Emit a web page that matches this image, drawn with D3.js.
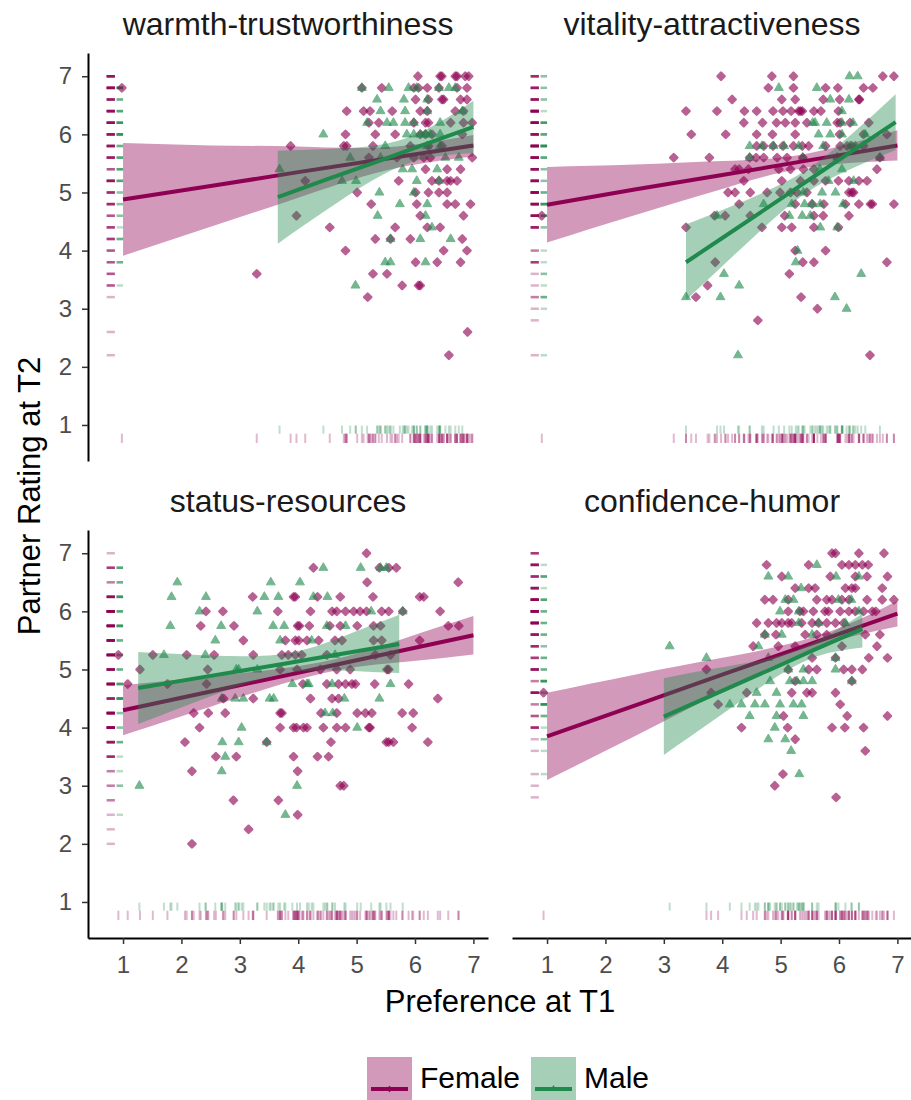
<!DOCTYPE html>
<html><head><meta charset="utf-8">
<script src="https://cdn.jsdelivr.net/npm/d3@7"></script>
<style>body{margin:0;background:#fff}svg{display:block}</style>
</head><body>
<script>
// ---------- DATA ----------
const panelTitles = ["warmth-trustworthiness", "vitality-attractiveness", "status-resources", "confidence-humor"];
const sexLabels = ["Female", "Male"];
const tickValues = [1, 2, 3, 4, 5, 6, 7];
const xTitle = "Preference at T1";
const yTitle = "Partner Rating at T2";

// points: rows of [Partner Rating at T2, [Preference at T1, ...]]
const warmthFemale = [
 [7.0,[6.05,6.43,6.46,6.69,6.72,6.86,6.92]],
 [6.8,[0.98,5.09,5.43,5.98,6.06,6.21,6.41,6.72,6.89]],
 [6.6,[6.01,6.23,6.46,6.49,6.78,6.89]],
 [6.4,[4.83,5.12,5.23,5.61,6.09,6.21,6.69,6.83]],
 [6.2,[5.21,5.38,5.98,6.18,6.23,6.61,6.83,6.98]],
 [6.0,[4.81,5.32,5.66,6.09,6.18,6.29,6.81]],
 [5.8,[3.87,4.78,4.83,5.28,5.92,6.23,6.46]],
 [5.6,[5.21,5.69,5.98,6.15,6.26,6.98]],
 [5.4,[6.18,6.55,6.78]],
 [5.2,[4.12,5.72,6.29,6.41,6.55,6.61,6.72]],
 [5.0,[5.01,6.01,6.23,6.41,6.55]],
 [4.8,[5.25,6.03,6.55,6.69,6.95]],
 [4.6,[3.97,6.09,6.83]],
 [4.4,[4.54,5.66,6.21,6.43]],
 [4.2,[5.32,5.58,5.92,6.81]],
 [4.0,[4.81,6.49,6.89]],
 [3.8,[6.01,6.38,6.78]],
 [3.6,[3.29,5.28,5.52]],
 [3.4,[5.78,6.06,6.09]],
 [3.2,[5.19]],
 [2.6,[6.90]],
 [2.2,[6.58]]
];
const warmthMale = [
 [6.8,[5.09,5.55,5.89,6.03,6.41,6.58,6.69]],
 [6.6,[5.35,5.81,6.21]],
 [6.4,[5.41,5.83,6.21,6.81]],
 [6.2,[5.18,5.52,5.63,5.83,5.98,6.43]],
 [6.0,[4.43,5.86,5.98,6.09,6.18,6.26,6.43]],
 [5.8,[5.49,6.21,6.43]],
 [5.6,[4.89,5.41,6.52,6.75]],
 [5.4,[3.68,5.79,5.95,6.38]],
 [5.2,[4.75,4.99,6.03,6.41]],
 [5.0,[5.39,5.98]],
 [4.8,[5.74,6.21]],
 [4.6,[5.36,6.18]],
 [4.4,[6.29]],
 [4.2,[5.58,6.09,6.61]],
 [3.8,[5.49,5.58,6.18]],
 [3.4,[4.98]]
];
const vitalityFemale = [
 [7.0,[3.98,4.85,5.22,6.75,6.94]],
 [6.8,[4.79,5.22,5.77,5.98,6.42,6.58]],
 [6.6,[4.17,5.02,5.25,5.73,6.01,6.34,6.35]],
 [6.4,[3.38,3.91,4.38,4.59,4.87,5.04,5.18,5.31,5.34,5.37,5.57,5.69,5.99]],
 [6.2,[4.37,4.69,4.93,5.08,5.25,5.45,5.97,6.02,6.19,6.51]],
 [6.0,[3.47,4.06,4.59,4.86,5.25,6.01,6.42,6.82]],
 [5.8,[4.59,4.71,4.87,5.04,5.22,5.37,5.48,5.77,6.02,6.14,6.22,6.42]],
 [5.6,[3.17,3.78,4.47,4.58,4.71,4.94,5.11,5.38,5.97,6.70]],
 [5.4,[4.22,4.29,4.45,4.97,5.17,5.39,5.57,6.65]],
 [5.2,[4.37,5.02,5.34,5.57,5.77,5.99,6.17,6.34,6.48]],
 [5.0,[4.10,4.22,4.48,4.77,4.99,5.17,5.28,5.45,6.17,6.22,6.25]],
 [4.8,[4.29,5.25,5.54,5.74,6.11,6.34,6.54,6.57,6.94]],
 [4.6,[0.91,3.87,4.05,4.48,5.07,5.57,5.73,6.17]],
 [4.4,[3.38,4.68,5.02,5.19,5.57,5.99]],
 [4.0,[5.25,5.77]],
 [3.8,[3.88,5.38,5.57,6.82]],
 [3.6,[5.15]],
 [3.4,[3.75]],
 [3.2,[3.55,5.35]],
 [3.0,[5.63]],
 [2.8,[4.61]],
 [2.2,[6.53]]
];
const vitalityMale = [
 [7.0,[6.18,6.32]],
 [6.8,[4.97,5.62]],
 [6.6,[5.85,6.17]],
 [6.4,[6.05]],
 [6.2,[5.55,5.59,5.79,6.05,6.24]],
 [6.0,[5.65,5.85,6.05,6.45]],
 [5.8,[4.47,4.68,4.88,5.06,5.31,5.73,6.19,6.28]],
 [5.6,[4.47,5.38,5.97,6.70]],
 [5.4,[5.67,6.05]],
 [5.2,[5.82,6.25]],
 [5.0,[5.39,5.71,5.94]],
 [4.8,[4.71,5.19,5.41,5.54,5.68,6.07]],
 [4.6,[3.91,5.15,5.37,5.51]],
 [4.4,[5.68,5.97]],
 [4.0,[5.29]],
 [3.8,[5.26]],
 [3.6,[4.03,6.38]],
 [3.4,[4.29]],
 [3.2,[3.38,3.97,5.93]],
 [3.0,[6.13]],
 [2.2,[4.27]]
];
const statusFemale = [
 [7.0,[5.17]],
 [6.75,[4.26,5.39,5.55,5.68]],
 [6.5,[5.18,6.74]],
 [6.25,[3.22,3.92,3.95,4.33,4.72,5.28,6.08,6.15]],
 [6.0,[2.42,2.71,3.65,4.21,4.58,4.66,4.81,4.95,5.06,5.17,5.43,5.55,5.79,6.43]],
 [5.75,[2.33,2.90,3.99,4.02,4.19,4.54,4.72,5.01,5.29,5.41,6.57,6.75]],
 [5.5,[3.06,3.78,3.95,4.01,4.15,4.35,4.63,4.75,5.29,5.43,6.08]],
 [5.25,[0.92,1.51,2.09,2.56,3.23,3.72,3.83,3.95,4.06,4.49,5.32,5.58]],
 [5.0,[1.29,2.45,3.69,3.98,4.38,4.66,4.89,5.52,5.55]],
 [4.75,[1.08,1.76,2.43,4.08,4.49,4.69,4.81,4.92,4.98,5.31,5.89]],
 [4.5,[2.72,3.23,4.21,4.58,4.69,6.39]],
 [4.25,[2.21,2.46,2.75,3.69,3.72,4.39,4.66,5.01,5.15,5.26,5.78,5.97]],
 [4.0,[2.31,3.69,3.92,3.97,4.09,4.15,4.43,4.66,4.81,5.21,5.23,5.95]],
 [3.75,[2.06,3.46,4.56,5.51,5.55,5.63,6.22]],
 [3.5,[2.59,2.94,3.92,4.33,4.52]],
 [3.25,[2.18,3.99]],
 [3.0,[4.72,4.78]],
 [2.75,[2.89,3.66]],
 [2.5,[3.99]],
 [2.25,[3.15]],
 [2.0,[2.18]]
];
const statusMale = [
 [6.75,[4.43,5.07,5.41,5.51]],
 [6.5,[1.93,3.53,4.03]],
 [6.25,[1.83,2.42,3.42,3.66,4.26,4.50]],
 [6.0,[2.31,3.30,5.25,5.79]],
 [5.75,[1.81,2.68,3.57,3.76,4.49,4.81]],
 [5.5,[2.58,3.69,4.23]],
 [5.25,[1.70,2.41,4.63]],
 [5.0,[2.94,2.98,3.30]],
 [4.75,[3.90,4.15,4.18,4.58,5.58]],
 [4.5,[2.69,2.92,3.06,3.51,3.58,4.79,5.39]],
 [4.25,[4.46,4.59]],
 [4.0,[3.03,5.01]],
 [3.75,[2.70,2.98,3.46]],
 [3.5,[2.75]],
 [3.25,[2.69]],
 [3.0,[1.28,3.98]],
 [2.5,[3.78]]
];
const confidenceFemale = [
 [7.0,[5.88,5.94,6.34,6.77]],
 [6.8,[4.76,5.48,6.05,6.17,6.28,6.40,6.50]],
 [6.6,[5.02,5.85,6.28,6.48,6.83]],
 [6.4,[5.25,5.48,5.59,6.11,6.22,6.28,6.74]],
 [6.2,[4.73,4.87,5.13,5.62,5.79,5.88,6.05,6.17,6.48,6.74,6.94]],
 [6.0,[5.13,5.33,5.39,5.56,5.76,5.82,6.02,6.17,6.28,6.42,6.57,6.63]],
 [5.8,[4.59,4.79,4.93,5.02,5.13,5.19,5.36,5.54,5.65,5.79,5.94,6.08]],
 [5.6,[4.73,4.92,5.42,5.62,5.79,6.45,6.70]],
 [5.4,[4.53,4.96,5.25,6.05,6.65]],
 [5.2,[5.54,5.94,6.51,6.83]],
 [5.0,[3.73,5.13,5.48,5.62,6.08,6.22,6.40]],
 [4.8,[5.25,6.22]],
 [4.6,[0.94,3.81,4.42,5.19,5.45,5.54,5.94]],
 [4.4,[3.93,6.02]],
 [4.2,[5.05,6.14,6.83]],
 [4.0,[4.33,5.12,5.88,6.10,6.42]],
 [3.8,[5.25]],
 [3.6,[6.45]],
 [3.2,[5.04]],
 [3.0,[4.90]],
 [2.8,[5.95]]
];
const confidenceMale = [
 [6.8,[5.62]],
 [6.6,[4.79,5.13,5.95,6.34]],
 [6.4,[5.35]],
 [6.2,[5.08,5.22,5.99,6.21]],
 [6.0,[4.99,5.31,6.34]],
 [5.8,[5.31,5.65,6.11]],
 [5.6,[4.73,5.02,5.54]],
 [5.4,[3.10,4.62]],
 [5.2,[3.73,4.79,5.94]],
 [5.0,[5.13,5.39,5.94]],
 [4.8,[4.82,5.16,5.28,5.39,5.54,6.22]],
 [4.6,[4.59,4.93]],
 [4.4,[4.13,4.33,4.56,4.73,4.99,5.22,5.36]],
 [4.2,[4.47,4.93,5.39]],
 [4.0,[4.90]],
 [3.8,[4.79,5.08]],
 [3.6,[5.18]],
 [3.2,[5.32]]
];

// fitted lines with confidence band: [x, fit, lower, upper]
const warmthFemaleFit = [[1,4.88,3.91,5.85],[2.5,5.11,4.41,5.81],[4,5.35,4.91,5.79],[5.5,5.58,5.38,5.78],[7,5.81,5.62,5.99]];
const warmthMaleFit = [[3.65,4.92,4.12,5.72],[4.5,5.23,4.71,5.75],[5.4,5.55,5.28,5.82],[6.2,5.84,5.59,6.09],[7,6.13,5.68,6.58]];
const vitalityFemaleFit = [[1,4.79,4.14,5.44],[2.5,5.05,4.61,5.48],[4,5.30,5.06,5.54],[5.4,5.54,5.42,5.66],[7,5.81,5.55,6.07]];
const vitalityMaleFit = [[3.38,3.80,3.15,4.45],[4.2,4.35,3.92,4.78],[5.0,4.89,4.65,5.14],[5.8,5.43,5.21,5.65],[6.97,6.21,5.73,6.69]];
const statusFemaleFit = [[1,4.30,3.87,4.73],[2.5,4.62,4.36,4.88],[4.4,5.03,4.93,5.13],[5.8,5.33,5.13,5.53],[7,5.59,5.26,5.92]];
const statusMaleFit = [[1.26,4.68,4.06,5.30],[2.5,4.89,4.54,5.24],[3.76,5.10,4.93,5.27],[4.8,5.28,4.98,5.58],[5.73,5.44,4.94,5.94]];
const confidenceFemaleFit = [[1,3.85,3.10,4.60],[2.5,4.38,3.85,4.91],[4,4.91,4.62,5.20],[5.6,5.47,5.37,5.57],[7,5.96,5.74,6.18]];
const confidenceMaleFit = [[3.0,4.19,3.53,4.85],[3.9,4.59,4.16,5.02],[4.8,4.99,4.79,5.19],[5.6,5.35,5.22,5.48],[6.4,5.70,5.38,5.96]];

// ---------- CHART ----------
const W = 911, H = 1100;
const FONT = "'Liberation Sans', Arial, Helvetica, sans-serif";
const femaleColor = "#8E0152", maleColor = "#1f8a4c";
const colors = [femaleColor, maleColor];

const panels = [
  {title: panelTitles[0], data: [warmthFemale, warmthMale], fits: [warmthFemaleFit, warmthMaleFit], col: 0, row: 0},
  {title: panelTitles[1], data: [vitalityFemale, vitalityMale], fits: [vitalityFemaleFit, vitalityMaleFit], col: 1, row: 0},
  {title: panelTitles[2], data: [statusFemale, statusMale], fits: [statusFemaleFit, statusMaleFit], col: 0, row: 1},
  {title: panelTitles[3], data: [confidenceFemale, confidenceMale], fits: [confidenceFemaleFit, confidenceMaleFit], col: 1, row: 1}
];
const panelLeft = [88, 512], panelW = 400;
const panelTop = [53, 530], panelH = 408;

const svg = d3.select("body").append("svg").attr("width", W).attr("height", H)
  .style("font-family", FONT);
svg.append("rect").attr("width", W).attr("height", H).attr("fill", "#fff");

const diamond = d3.symbol().type(d3.symbolSquare).size(26);
const triangle = d3.symbol().type(d3.symbolTriangle).size(34);

panels.forEach(p => {
  const x = d3.scaleLinear().domain([0.4, 7.25]).range([panelLeft[p.col], panelLeft[p.col] + panelW]);
  const y = d3.scaleLinear().domain([0.38, 7.4]).range([panelTop[p.row] + panelH, panelTop[p.row]]);
  const g = svg.append("g");

  // strip title
  svg.append("text").attr("x", (x.range()[0] + x.range()[1]) / 2).attr("y", panelTop[p.row] - 18)
    .attr("text-anchor", "middle").attr("font-size", 32).attr("fill", "#1a1a1a").text(p.title);

  const pts = p.data.map(rows => rows.flatMap(([r, xs]) => xs.map(v => ({x: v, y: r}))));

  // rugs
  const rugG = g.append("g");
  pts.forEach((arr, i) => {
    const lx = i === 0 ? [0.72, 0.86] : [0.89, 1.0];
    const by = i === 0 ? [0.69, 0.85] : [0.85, 0.99];
    rugG.selectAll(null).data(arr).enter().append("line")
      .attr("x1", x(lx[0])).attr("x2", x(lx[1]))
      .attr("y1", d => y(d.y)).attr("y2", d => y(d.y))
      .attr("stroke", colors[i]).attr("stroke-opacity", 0.3).attr("stroke-width", 2.5);
    rugG.selectAll(null).data(arr).enter().append("line")
      .attr("y1", y(by[0])).attr("y2", y(by[1]))
      .attr("x1", d => x(d.x)).attr("x2", d => x(d.x))
      .attr("stroke", colors[i]).attr("stroke-opacity", 0.28).attr("stroke-width", 2);
  });

  // points
  pts.forEach((arr, i) => {
    g.append("g").selectAll("path").data(arr).enter().append("path")
      .attr("d", i === 0 ? diamond : triangle)
      .attr("transform", d => `translate(${x(d.x)},${y(d.y)})` + (i === 0 ? " rotate(45)" : ""))
      .attr("fill", colors[i]).attr("stroke", colors[i])
      .attr("stroke-width", i === 0 ? 2.4 : 1).attr("stroke-linejoin", "round")
      .attr("opacity", 0.62);
  });

  // smooths
  p.fits.forEach((f, i) => {
    const area = d3.area().x(d => x(d[0])).y0(d => y(d[2])).y1(d => y(d[3])).curve(d3.curveNatural);
    g.append("path").attr("d", area(f)).attr("fill", colors[i]).attr("fill-opacity", 0.4);
    const line = d3.line().x(d => x(d[0])).y(d => y(d[1]));
    g.append("path").attr("d", line(f)).attr("fill", "none").attr("stroke", colors[i]).attr("stroke-width", 4);
  });

  // axes
  if (p.col === 0) {
    const ax = svg.append("g").attr("transform", `translate(${x.range()[0]},0)`)
      .call(d3.axisLeft(y).tickValues(tickValues).tickFormat(d3.format("d")).tickSize(6).tickSizeOuter(0).tickPadding(10));
    ax.select(".domain").attr("stroke", "#000").attr("stroke-width", 2);
    ax.selectAll(".tick line").attr("stroke", "#333").attr("stroke-width", 1.5);
    ax.selectAll(".tick text").attr("font-size", 24).attr("fill", "#4d4d4d").attr("font-family", FONT);
  }
  if (p.row === 1) {
    const ax = svg.append("g").attr("transform", `translate(0,${y.range()[0]})`)
      .call(d3.axisBottom(x).tickValues(tickValues).tickFormat(d3.format("d")).tickSize(6).tickSizeOuter(0).tickPadding(12));
    ax.select(".domain").attr("stroke", "#000").attr("stroke-width", 2);
    ax.selectAll(".tick line").attr("stroke", "#333").attr("stroke-width", 1.5);
    ax.selectAll(".tick text").attr("font-size", 24).attr("fill", "#4d4d4d").attr("font-family", FONT);
  }
});

// axis titles
svg.append("text").attr("x", 500).attr("y", 1012).attr("text-anchor", "middle")
  .attr("font-size", 31).attr("fill", "#000").text(xTitle);
svg.append("text").attr("transform", "translate(40,496) rotate(-90)").attr("text-anchor", "middle")
  .attr("font-size", 31).attr("fill", "#000").text(yTitle);

// legend
const legX = [367, 531];
sexLabels.forEach((s, i) => {
  const lg = svg.append("g").attr("transform", `translate(${legX[i]},1057)`);
  lg.append("rect").attr("width", 45).attr("height", 45).attr("fill", colors[i]).attr("fill-opacity", 0.4);
  lg.append("line").attr("x1", 4).attr("x2", 41).attr("y1", 32).attr("y2", 32)
    .attr("stroke", colors[i]).attr("stroke-width", 4);
  lg.append("path").attr("d", (i === 0 ? diamond : triangle).size(22)())
    .attr("transform", `translate(22.5,32)` + (i === 0 ? " rotate(45)" : ""))
    .attr("fill", colors[i]);
  lg.append("text").attr("x", 53).attr("y", 31).attr("font-size", 30).attr("fill", "#000").text(s);
});
</script>
</body></html>
